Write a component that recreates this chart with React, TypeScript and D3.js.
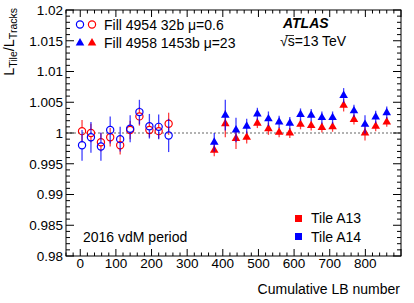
import React from 'react'
import * as d3 from 'd3'

// Fill 4954 (open circles)
const lowMuLB = [5, 30, 58, 84, 112, 140, 166, 194, 220, 248]
const lowMuA13 = [1.0003, 1.0, 0.9985, 0.9993, 0.998, 1.0005, 1.0027, 1.0005, 1.0003, 1.0015]
const lowMuA13Err = [0.0018, 0.0015, 0.0015, 0.0015, 0.0015, 0.0015, 0.0015, 0.0012, 0.0012, 0.0018]
const lowMuA14 = [0.998, 0.9993, 0.9978, 1.0005, 0.999, 1.0007, 1.0034, 1.0011, 1.001, 0.9996]
const lowMuA14Err = [0.0025, 0.0025, 0.0023, 0.0022, 0.002, 0.0022, 0.002, 0.002, 0.002, 0.0027]

// Fill 4958 (filled triangles)
const highMuLB = [376, 407, 437, 467, 497, 528, 558, 588, 618, 648, 678, 708, 739, 768, 799, 829, 860]
const highMuA13 = [0.9972, 1.0015, 0.9991, 0.9993, 1.0016, 1.0007, 1.0001, 1.0, 1.0014, 1.0012, 1.0009, 1.001, 1.0045, 1.0022, 1.0, 1.0011, 1.0018]
const highMuA13Err = [0.001, 0.0022, 0.0017, 0.001, 0.0008, 0.001, 0.0008, 0.0008, 0.0008, 0.0008, 0.0008, 0.0008, 0.001, 0.0008, 0.0012, 0.0008, 0.0008]
const highMuA14 = [0.9985, 1.0029, 1.0005, 1.0011, 1.0031, 1.0023, 1.0018, 1.0016, 1.003, 1.0029, 1.0025, 1.0025, 1.0061, 1.0036, 1.0014, 1.0026, 1.0033]
const highMuA14Err = [0.0015, 0.0025, 0.002, 0.0012, 0.001, 0.0012, 0.001, 0.001, 0.001, 0.001, 0.001, 0.001, 0.0012, 0.001, 0.0015, 0.001, 0.001]

const xTickLabels = ['0', '100', '200', '300', '400', '500', '600', '700', '800']
const yTickLabels = ['0.98', '0.985', '0.99', '0.995', '1', '1.005', '1.01', '1.015', '1.02']

const RED = '#ff0000'
const BLUE = '#0000ff'
const FONT = '"Liberation Sans", Arial, Helvetica, sans-serif'

const margin = { top: 10, left: 66, right: 13, bottom: 47 }
const W = 414
const H = 303

export default function App() {
	const x = d3.scaleLinear().domain([-40, 900]).range([margin.left, W - margin.right])
	const y = d3.scaleLinear().domain([0.98, 1.02]).range([H - margin.bottom, margin.top])

	const x0 = margin.left
	const x1 = W - margin.right
	const y0 = H - margin.bottom
	const y1 = margin.top

	const xMinor = d3.range(-40, 901, 20)
	const yMinor = d3.range(0, 41).map(i => 0.98 + i * 0.001)

	const tri = d3.symbol(d3.symbolTriangle, 32)()

	const circleSeries = (vals, errs, color, key) =>
		lowMuLB.map((lb, i) => {
			const cx = x(lb)
			const cy = y(vals[i])
			const r = 3.6
			return (
				<g key={key + i}>
					<line x1={cx} x2={cx} y1={y(vals[i] + errs[i])} y2={cy - r} stroke={color} strokeWidth={1.3} opacity={0.75} />
					<line x1={cx} x2={cx} y1={cy + r} y2={y(vals[i] - errs[i])} stroke={color} strokeWidth={1.3} opacity={0.75} />
					<circle cx={cx} cy={cy} r={r} fill="none" stroke={color} strokeWidth={1.2} />
				</g>
			)
		})

	const triSeries = (vals, errs, color, key) =>
		highMuLB.map((lb, i) => {
			const cx = x(lb)
			const cy = y(vals[i])
			return (
				<g key={key + i}>
					<line x1={cx} x2={cx} y1={y(vals[i] + errs[i])} y2={y(vals[i] - errs[i])} stroke={color} strokeWidth={1.3} opacity={0.75} />
					<path d={tri} transform={`translate(${cx},${cy})`} fill={color} />
				</g>
			)
		})

	return (
		<svg width={W} height={H} style={{ position: 'absolute', left: 0, top: 0, background: '#fff' }} fontFamily={FONT}>
			{/* reference line at 1 */}
			<line x1={x0} x2={x1} y1={y(1)} y2={y(1)} stroke="#999" strokeWidth={1.5} strokeDasharray="2,2" />

			{circleSeries(lowMuA13, lowMuA13Err, RED, 'c13')}
			{circleSeries(lowMuA14, lowMuA14Err, BLUE, 'c14')}
			{triSeries(highMuA13, highMuA13Err, RED, 't13')}
			{triSeries(highMuA14, highMuA14Err, BLUE, 't14')}

			{/* frame and ticks */}
			<rect x={x0} y={y1} width={x1 - x0} height={y0 - y1} fill="none" stroke="#000" strokeWidth={1} />
			{xMinor.map(v => {
				const major = v % 100 === 0
				const len = major ? 7 : 3.5
				return (
					<g key={'xt' + v}>
						<line x1={x(v)} x2={x(v)} y1={y0} y2={y0 - len} stroke="#000" />
						<line x1={x(v)} x2={x(v)} y1={y1} y2={y1 + len} stroke="#000" />
					</g>
				)
			})}
			{yMinor.map((v, i) => {
				const major = i % 5 === 0
				const len = major ? 8 : 4
				return (
					<g key={'yt' + i}>
						<line x1={x0} x2={x0 + len} y1={y(v)} y2={y(v)} stroke="#000" />
						<line x1={x1} x2={x1 - len} y1={y(v)} y2={y(v)} stroke="#000" />
					</g>
				)
			})}
			{xTickLabels.map(t => (
				<text key={'xl' + t} x={x(+t)} y={268} textAnchor="middle" fontSize={13.5}>{t}</text>
			))}
			{yTickLabels.map(t => (
				<text key={'yl' + t} x={63} y={y(+t)} dy="0.36em" textAnchor="end" fontSize={13.5}>{t}</text>
			))}

			{/* axis titles */}
			<text x={400} y={294} textAnchor="end" fontSize={14}>Cumulative LB number</text>
			<text transform="translate(14,8) rotate(-90)" textAnchor="end" fontSize={14.5}>
				L<tspan fontSize={10.5} dy={3}>Tile</tspan><tspan dy={-3}>/L</tspan><tspan fontSize={10.5} dy={3}>Tracks</tspan>
			</text>

			{/* top legend */}
			<circle cx={80} cy={24.5} r={3.6} fill="none" stroke={BLUE} strokeWidth={1.2} />
			<circle cx={92} cy={24.5} r={3.6} fill="none" stroke={RED} strokeWidth={1.2} />
			<text x={104} y={29.5} fontSize={14}>Fill 4954 32b μ=0.6</text>
			<path d={tri} transform="translate(80,43)" fill={BLUE} />
			<path d={tri} transform="translate(92,43)" fill={RED} />
			<text x={104} y={48} fontSize={14}>Fill 4958 1453b μ=23</text>

			<text x={283} y={28} fontSize={14} fontWeight="bold" fontStyle="italic">ATLAS</text>
			<text x={280} y={46} fontSize={14}>√s=13 TeV</text>
			<line x1={285.5} x2={294} y1={35.5} y2={35.5} stroke="#000" strokeWidth={0.8} />

			{/* bottom legend */}
			<rect x={295} y={215} width={7} height={7} fill={RED} />
			<text x={311} y={223} fontSize={14}>Tile A13</text>
			<rect x={295} y={233} width={7} height={7} fill={BLUE} />
			<text x={311} y={242} fontSize={14}>Tile A14</text>
			<text x={83} y={242} fontSize={14}>2016 vdM period</text>
		</svg>
	)
}
